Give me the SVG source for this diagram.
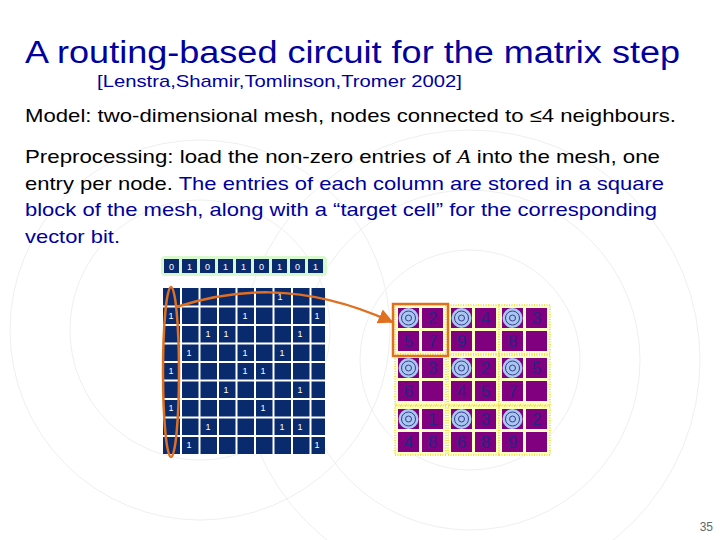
<svg xmlns="http://www.w3.org/2000/svg" width="720" height="540" viewBox="0 0 720 540">
<style>
.t{font-family:"Liberation Sans",Arial,sans-serif}
.m{fill:#0a2a6e}
.mt{font-family:"Liberation Sans",Arial,sans-serif;font-size:9px;fill:#fff;text-anchor:middle}
.p{fill:#800080}
.blk{fill:#ffffc0;stroke:#f0e060;stroke-width:2;stroke-dasharray:1 1.5}
.n{font-family:"Liberation Sans",Arial,sans-serif;font-size:17px;fill:#262680;text-anchor:middle}
.bg{fill:none;stroke:#efefef;stroke-width:1}
</style>
<defs>
<g id="tg"><circle r="10" fill="#a8c8f0"/><circle r="7" fill="none" stroke="#3a3a90" stroke-width="1"/><circle r="3" fill="none" stroke="#3a3a90" stroke-width="1"/></g>
<marker id="ar" viewBox="0 0 10 10" refX="9" refY="5" markerWidth="6" markerHeight="6" orient="auto"><path d="M0,0L10,5L0,10z" fill="#e07020"/></marker>
</defs>
<rect width="720" height="540" fill="#fff"/>
<g id="background">
<circle class="bg" cx="470" cy="360" r="110"/><circle class="bg" cx="470" cy="360" r="170"/><circle class="bg" cx="470" cy="360" r="230"/>
<circle class="bg" cx="200" cy="330" r="130"/><circle class="bg" cx="200" cy="330" r="190"/>
</g>
<text class="t" x="25" y="63" font-size="31" fill="#0000a0" textLength="655" lengthAdjust="spacingAndGlyphs">A routing-based circuit for the matrix step</text>
<text class="t" x="97" y="87" font-size="17" fill="#0000a0" textLength="365" lengthAdjust="spacingAndGlyphs">[Lenstra,Shamir,Tomlinson,Tromer 2002]</text>
<text class="t" x="25" y="122" font-size="19" fill="#000" textLength="651" lengthAdjust="spacingAndGlyphs">Model: two-dimensional mesh, nodes connected to ≤4 neighbours.</text>
<text class="t" x="25" y="163" font-size="19" fill="#000" textLength="635" lengthAdjust="spacingAndGlyphs">Preprocessing: load the non-zero entries of <tspan font-family="Liberation Serif,serif" font-style="italic">A</tspan> into the  mesh, one</text>
<text class="t" x="25" y="190" font-size="19" fill="#000" textLength="639" lengthAdjust="spacingAndGlyphs">entry per node. <tspan fill="#0000a0">The entries of each column are stored in a square</tspan></text>
<text class="t" x="25" y="216" font-size="19" fill="#0000a0" textLength="632" lengthAdjust="spacingAndGlyphs">block of the mesh, along with a “target cell” for the corresponding</text>
<text class="t" x="25" y="243" font-size="19" fill="#0000a0" textLength="95" lengthAdjust="spacingAndGlyphs">vector bit.</text>

<g id="vector">
<rect x="161" y="256" width="166" height="20" rx="4" fill="#d8f8d0"/>
<g class="m"><rect x="164" y="259" width="15" height="14"/><rect x="182" y="259" width="15" height="14"/><rect x="200" y="259" width="15" height="14"/><rect x="218" y="259" width="15" height="14"/><rect x="236" y="259" width="15" height="14"/><rect x="254" y="259" width="15" height="14"/><rect x="272" y="259" width="15" height="14"/><rect x="290" y="259" width="15" height="14"/><rect x="308" y="259" width="15" height="14"/></g>
<g class="mt"><text x="171.5" y="270">0</text><text x="189.5" y="270">1</text><text x="207.5" y="270">0</text><text x="225.5" y="270">1</text><text x="243.5" y="270">1</text><text x="261.5" y="270">0</text><text x="279.5" y="270">1</text><text x="297.5" y="270">0</text><text x="315.5" y="270">1</text></g>
</g>

<g id="matrix">
<rect x="163" y="288" width="162" height="166" fill="#0a2a6e"/>
<g stroke="#fff" stroke-width="2">
<line x1="181" y1="288" x2="181" y2="454"/><line x1="199.5" y1="288" x2="199.5" y2="454"/><line x1="218" y1="288" x2="218" y2="454"/><line x1="236.5" y1="288" x2="236.5" y2="454"/><line x1="255" y1="288" x2="255" y2="454"/><line x1="273.5" y1="288" x2="273.5" y2="454"/><line x1="292" y1="288" x2="292" y2="454"/><line x1="310.5" y1="288" x2="310.5" y2="454"/>
<line x1="163" y1="306.5" x2="325" y2="306.5"/><line x1="163" y1="325" x2="325" y2="325"/><line x1="163" y1="343.5" x2="325" y2="343.5"/><line x1="163" y1="362" x2="325" y2="362"/><line x1="163" y1="380.5" x2="325" y2="380.5"/><line x1="163" y1="399" x2="325" y2="399"/><line x1="163" y1="417.5" x2="325" y2="417.5"/><line x1="163" y1="436" x2="325" y2="436"/>
</g>
<g class="mt">
<text x="280" y="300">1</text>
<text x="171" y="319">1</text><text x="245" y="319">1</text><text x="317" y="319">1</text>
<text x="208" y="337">1</text><text x="226" y="337">1</text><text x="300" y="337">1</text>
<text x="189" y="356">1</text><text x="245" y="356">1</text><text x="282" y="356">1</text>
<text x="171" y="374">1</text><text x="245" y="374">1</text><text x="263" y="374">1</text>
<text x="226" y="393">1</text><text x="300" y="393">1</text>
<text x="171" y="411">1</text><text x="263" y="411">1</text>
<text x="208" y="430">1</text><text x="282" y="430">1</text><text x="300" y="430">1</text>
<text x="189" y="448">1</text><text x="317" y="448">1</text>
</g>
</g>

<g id="mesh">
<rect class="blk" x="395" y="305" width="51" height="49"/><rect class="blk" x="448" y="305" width="51" height="49"/><rect class="blk" x="499" y="305" width="51" height="49"/>
<rect class="blk" x="395" y="355" width="51" height="50"/><rect class="blk" x="448" y="355" width="51" height="50"/><rect class="blk" x="499" y="355" width="51" height="50"/>
<rect class="blk" x="395" y="406" width="51" height="49"/><rect class="blk" x="448" y="406" width="51" height="49"/><rect class="blk" x="499" y="406" width="51" height="49"/>
<g class="p">
<rect x="398" y="308" width="21" height="20"/><rect x="422" y="308" width="21" height="20"/><rect x="451" y="308" width="21" height="20"/><rect x="475" y="308" width="21" height="20"/><rect x="502" y="308" width="21" height="20"/><rect x="526" y="308" width="21" height="20"/>
<rect x="398" y="331" width="21" height="20"/><rect x="422" y="331" width="21" height="20"/><rect x="451" y="331" width="21" height="20"/><rect x="475" y="331" width="21" height="20"/><rect x="502" y="331" width="21" height="20"/><rect x="526" y="331" width="21" height="20"/>
<rect x="398" y="358" width="21" height="20"/><rect x="422" y="358" width="21" height="20"/><rect x="451" y="358" width="21" height="20"/><rect x="475" y="358" width="21" height="20"/><rect x="502" y="358" width="21" height="20"/><rect x="526" y="358" width="21" height="20"/>
<rect x="398" y="381" width="21" height="20"/><rect x="422" y="381" width="21" height="20"/><rect x="451" y="381" width="21" height="20"/><rect x="475" y="381" width="21" height="20"/><rect x="502" y="381" width="21" height="20"/><rect x="526" y="381" width="21" height="20"/>
<rect x="398" y="409" width="21" height="20"/><rect x="422" y="409" width="21" height="20"/><rect x="451" y="409" width="21" height="20"/><rect x="475" y="409" width="21" height="20"/><rect x="502" y="409" width="21" height="20"/><rect x="526" y="409" width="21" height="20"/>
<rect x="398" y="432" width="21" height="20"/><rect x="422" y="432" width="21" height="20"/><rect x="451" y="432" width="21" height="20"/><rect x="475" y="432" width="21" height="20"/><rect x="502" y="432" width="21" height="20"/><rect x="526" y="432" width="21" height="20"/>
</g>
<use href="#tg" x="408.5" y="318"/><use href="#tg" x="461.5" y="318"/><use href="#tg" x="512.5" y="318"/>
<use href="#tg" x="408.5" y="368"/><use href="#tg" x="461.5" y="368"/><use href="#tg" x="512.5" y="368"/>
<use href="#tg" x="408.5" y="419"/><use href="#tg" x="461.5" y="419"/><use href="#tg" x="512.5" y="419"/>
<g class="n">
<text x="432.5" y="324">2</text><text x="485.5" y="324">4</text><text x="536.5" y="324">3</text>
<text x="408.5" y="347">5</text><text x="432.5" y="347">7</text><text x="461.5" y="347">9</text><text x="512.5" y="347">8</text>
<text x="432.5" y="374">3</text><text x="485.5" y="374">2</text><text x="536.5" y="374">5</text>
<text x="408.5" y="397">6</text><text x="461.5" y="397">4</text><text x="485.5" y="397">5</text><text x="512.5" y="397">7</text>
<text x="432.5" y="425">1</text><text x="485.5" y="425">3</text><text x="536.5" y="425">2</text>
<text x="408.5" y="448">4</text><text x="432.5" y="448">8</text><text x="461.5" y="448">6</text><text x="485.5" y="448">8</text><text x="512.5" y="448">9</text>
</g>
</g>

<g id="connectors" fill="none" stroke="#e07020" stroke-width="2.5">
<ellipse cx="171" cy="372" rx="8" ry="85"/>
<rect x="393" y="304" width="55" height="52"/>
<path d="M176,307 C230,290 300,280 392,322" marker-end="url(#ar)"/>
</g>
<text class="t" x="713" y="531" font-size="12" fill="#666" text-anchor="end">35</text>
</svg>
